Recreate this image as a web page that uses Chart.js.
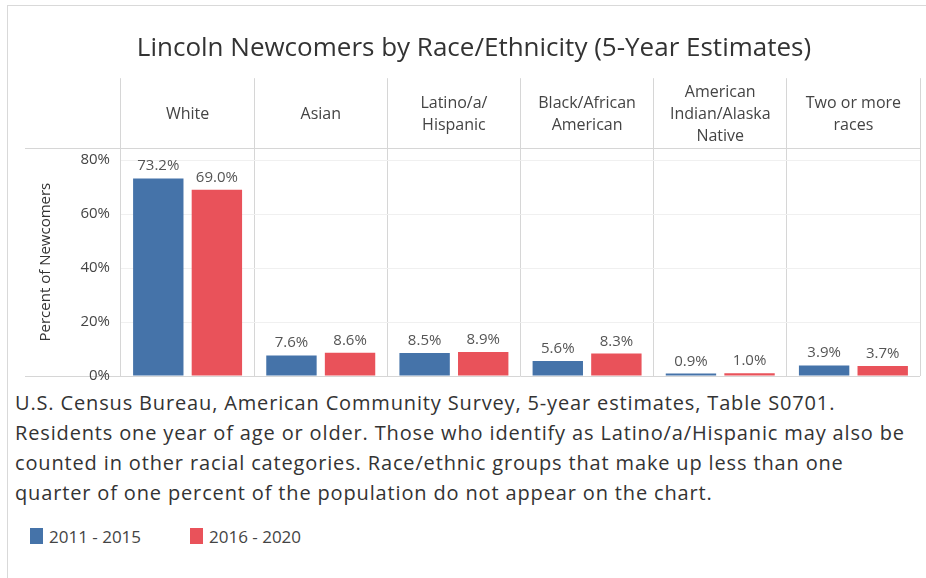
<!DOCTYPE html>
<html>
<head>
<meta charset="utf-8">
<script src="https://cdn.jsdelivr.net/npm/chart.js@4.4.1/dist/chart.umd.min.js"></script>
<style>
  body { margin: 0; background: #fff; font-family: 'Open Sans', sans-serif; }
  #frame {
    position: absolute; left: 7px; top: 5px; width: 919px; height: 573px;
    border-left: 1px solid #d9d9d9; border-top: 1px solid #d9d9d9;
  }
  #chart { position: absolute; left: 0; top: 0; }
  #note {
    position: absolute; left: 7px; top: 382px;
    font-size: 20px; letter-spacing: 0.85px; line-height: 30px; color: #333; white-space: nowrap;
  }
  #legend { position: absolute; left: 22px; top: 520px; width: 400px; height: 20px; }
  .item { position: absolute; top: 0; display: flex; align-items: center; height: 20px; white-space: nowrap; }
  .swatch { width: 13px; height: 16px; margin-right: 6px; }
  .item span { font-size: 17px; color: #444; }
</style>
</head>
<body>
<div id="frame">
  <canvas id="chart" width="918" height="380"></canvas>
  <div id="note"></div>
  <div id="legend"></div>
</div>
<script>
// Categories (header row) and values for each survey period
const categories = [
  'White',
  'Asian',
  ['Latino/a/', 'Hispanic'],
  ['Black/African', 'American'],
  ['American', 'Indian/Alaska', 'Native'],
  ['Two or more', 'races']
];
const seriesLabels = ['2011 - 2015', '2016 - 2020'];
const values2011_2015 = [73.2, 7.6, 8.5, 5.6, 0.9, 3.9];
const values2016_2020 = [69.0, 8.6, 8.9, 8.3, 1.0, 3.7];
const seriesColors = ['#4573a9', '#e9525a'];
const yTicks = [0, 20, 40, 60, 80];
const yMax = 84.4;

const noteLines = [
  'U.S. Census Bureau, American Community Survey, 5-year estimates, Table S0701.',
  'Residents one year of age or older. Those who identify as Latino/a/Hispanic may also be',
  'counted in other racial categories. Race/ethnic groups that make up less than one',
  'quarter of one percent of the population do not appear on the chart.'
];

// footnote + legend below the chart
document.getElementById('note').innerHTML = noteLines.map(l => '<div>' + l + '</div>').join('');
const legendEl = document.getElementById('legend');
seriesLabels.forEach((lab, i) => {
  const item = document.createElement('div');
  item.className = 'item';
  item.style.left = (i * 160) + 'px';
  item.innerHTML = '<div class="swatch" style="background:' + seriesColors[i] + '"></div><span>' + lab + '</span>';
  legendEl.appendChild(item);
});

const lineColor = '#d6d6d6';

// value labels above each bar
const barValueLabels = {
  id: 'barValueLabels',
  afterDatasetsDraw(chart) {
    const ctx = chart.ctx;
    ctx.save();
    ctx.font = '15px "Open Sans"';
    ctx.fillStyle = '#555';
    ctx.textAlign = 'center';
    ctx.textBaseline = 'alphabetic';
    chart.data.datasets.forEach((ds, di) => {
      chart.getDatasetMeta(di).data.forEach((bar, i) => {
        ctx.fillText(ds.data[i].toFixed(1) + '%', bar.x, bar.y - 8);
      });
    });
    ctx.restore();
  }
};

new Chart(document.getElementById('chart'), {
  type: 'bar',
  data: {
    labels: categories,
    datasets: [
      { label: seriesLabels[0], data: values2011_2015, backgroundColor: seriesColors[0] },
      { label: seriesLabels[1], data: values2016_2020, backgroundColor: seriesColors[1] }
    ]
  },
  options: {
    responsive: false,
    animation: false,
    events: [],
    categoryPercentage: 0.88,
    barPercentage: 0.86,
    layout: { padding: { left: 20, right: 6, top: 0, bottom: 10 } },
    plugins: {
      legend: { display: false },
      tooltip: { enabled: false },
      title: {
        display: true,
        text: 'Lincoln Newcomers by Race/Ethnicity (5-Year Estimates)',
        color: '#333',
        font: { family: 'Open Sans', size: 26, weight: 'normal', lineHeight: 1.2 },
        padding: { top: 27, bottom: 4 }
      }
    },
    scales: {
      x: {
        position: 'top',
        // header band: divider ticks run the full band height
        afterFit: scale => { scale.height = 80; },
        grid: { offset: true, color: lineColor, tickColor: lineColor, tickLength: 70 },
        border: { color: lineColor },
        ticks: {
          autoSkip: false,
          maxRotation: 0,
          crossAlign: 'center',
          padding: -58,
          color: '#444',
          font: { family: 'Open Sans', size: 16, lineHeight: '22px' }
        }
      },
      y: {
        min: 0,
        max: yMax,
        afterBuildTicks: scale => {
          scale.ticks = yTicks.map(v => ({ value: v })).concat([{ value: yMax }]);
        },
        afterFit: scale => { scale.width = 93; },
        border: { display: false },
        grid: {
          tickLength: 96,
          color: c => (c.tick.value === 0 || c.tick.value === yMax) ? lineColor : '#f0f0f0',
          tickColor: c => (c.tick.value === 0 || c.tick.value === yMax) ? lineColor : 'transparent'
        },
        ticks: {
          padding: -85,
          color: '#444',
          font: { family: 'Open Sans', size: 15 },
          callback: v => (yTicks.includes(v) ? v + '%' : '')
        },
        title: {
          display: true,
          text: 'Percent of Newcomers',
          color: '#333',
          font: { family: 'Open Sans', size: 15, lineHeight: 1.2 },
          padding: { top: 9, bottom: 0 }
        }
      }
    }
  },
  plugins: [barValueLabels]
});
</script>
</body>
</html>
